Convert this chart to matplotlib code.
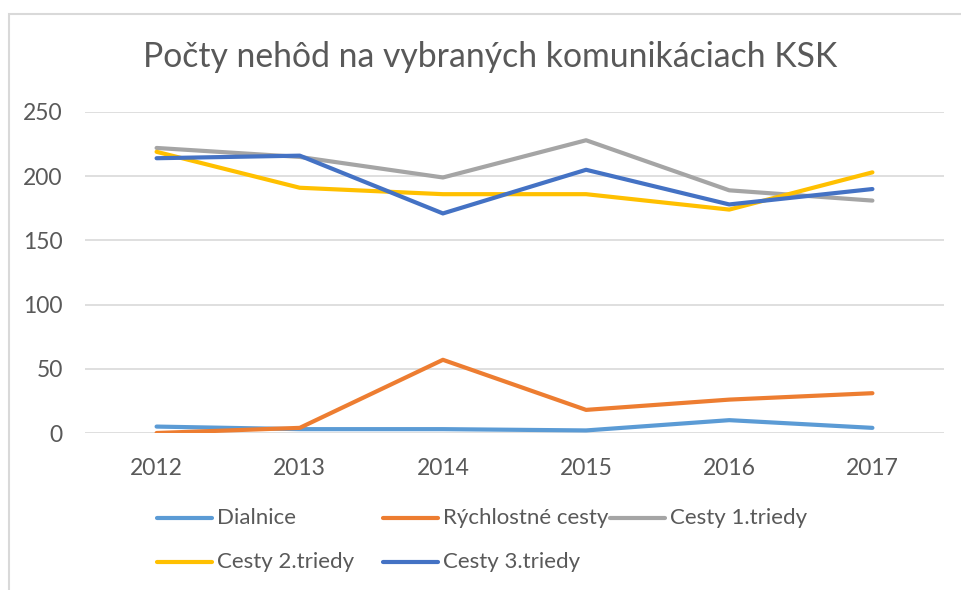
import matplotlib.pyplot as plt
from matplotlib.lines import Line2D
from matplotlib.patches import Rectangle

plt.rcParams['font.family'] = ['Lato', 'DejaVu Sans']

years = ['2012', '2013', '2014', '2015', '2016', '2017']
dialnice = [5, 3, 3, 2, 10, 4]
rychlostne = [0, 4, 57, 18, 26, 31]
cesty1 = [222, 215, 199, 228, 189, 181]
cesty2 = [219, 191, 186, 186, 174, 203]
cesty3 = [214, 216, 171, 205, 178, 190]

series = [
    ('Dialnice', dialnice, '#5B9BD5'),
    ('Rýchlostné cesty', rychlostne, '#ED7D31'),
    ('Cesty 1.triedy', cesty1, '#A5A5A5'),
    ('Cesty 2.triedy', cesty2, '#FFC000'),
    ('Cesty 3.triedy', cesty3, '#4472C4'),
]

W, H = 962, 590
fig = plt.figure(figsize=(W / 100, H / 100), dpi=100)

# ramik grafu (vidno len hore a vlavo)
fig.patches.append(Rectangle((8.5 / W, -0.1), 1.2, 1 - 13.5 / H + 0.1,
                             transform=fig.transFigure, fill=False,
                             edgecolor='#d9d9d9', linewidth=1.5))

ax = fig.add_axes([85 / W, 1 - 433 / H, (944 - 85) / W, (433 - 112) / H])
x = list(range(len(years)))
for name, vals, col in series:
    ax.plot(x, vals, color=col, linewidth=3, solid_capstyle='round', label=name)

ax.set_xlim(-0.5, len(years) - 0.5)
ax.set_ylim(0, 250)
ax.set_yticks([0, 50, 100, 150, 200, 250])
ax.set_xticks(x)
ax.set_xticklabels(years)
ax.grid(axis='y', color='#d9d9d9', linewidth=1.2)
ax.set_axisbelow(True)
for s in ax.spines.values():
    s.set_visible(False)
ax.tick_params(length=0, labelsize=16.5, colors='#595959')
ax.tick_params(axis='y', pad=16)
ax.tick_params(axis='x', pad=18)

fig.text(490 / W, 1 - 57 / H, 'Počty nehôd na vybraných komunikáciach KSK',
         ha='center', va='center', fontsize=24.3, color='#595959')

# legenda ako v Exceli: rovnake sirky stlpcov, 3 v riadku
col_x = [157, 383, 610]
row_y = [518, 562]
for i, (name, vals, col) in enumerate(series):
    cx = col_x[i % 3]
    cy = row_y[i // 3]
    fig.add_artist(Line2D([cx / W, (cx + 55) / W], [1 - cy / H, 1 - cy / H],
                          transform=fig.transFigure, color=col, linewidth=3,
                          solid_capstyle='round'))
    fig.text((cx + 60) / W, 1 - cy / H, name, ha='left', va='center',
             fontsize=16, color='#595959')

fig.savefig('out.png', dpi=100)
